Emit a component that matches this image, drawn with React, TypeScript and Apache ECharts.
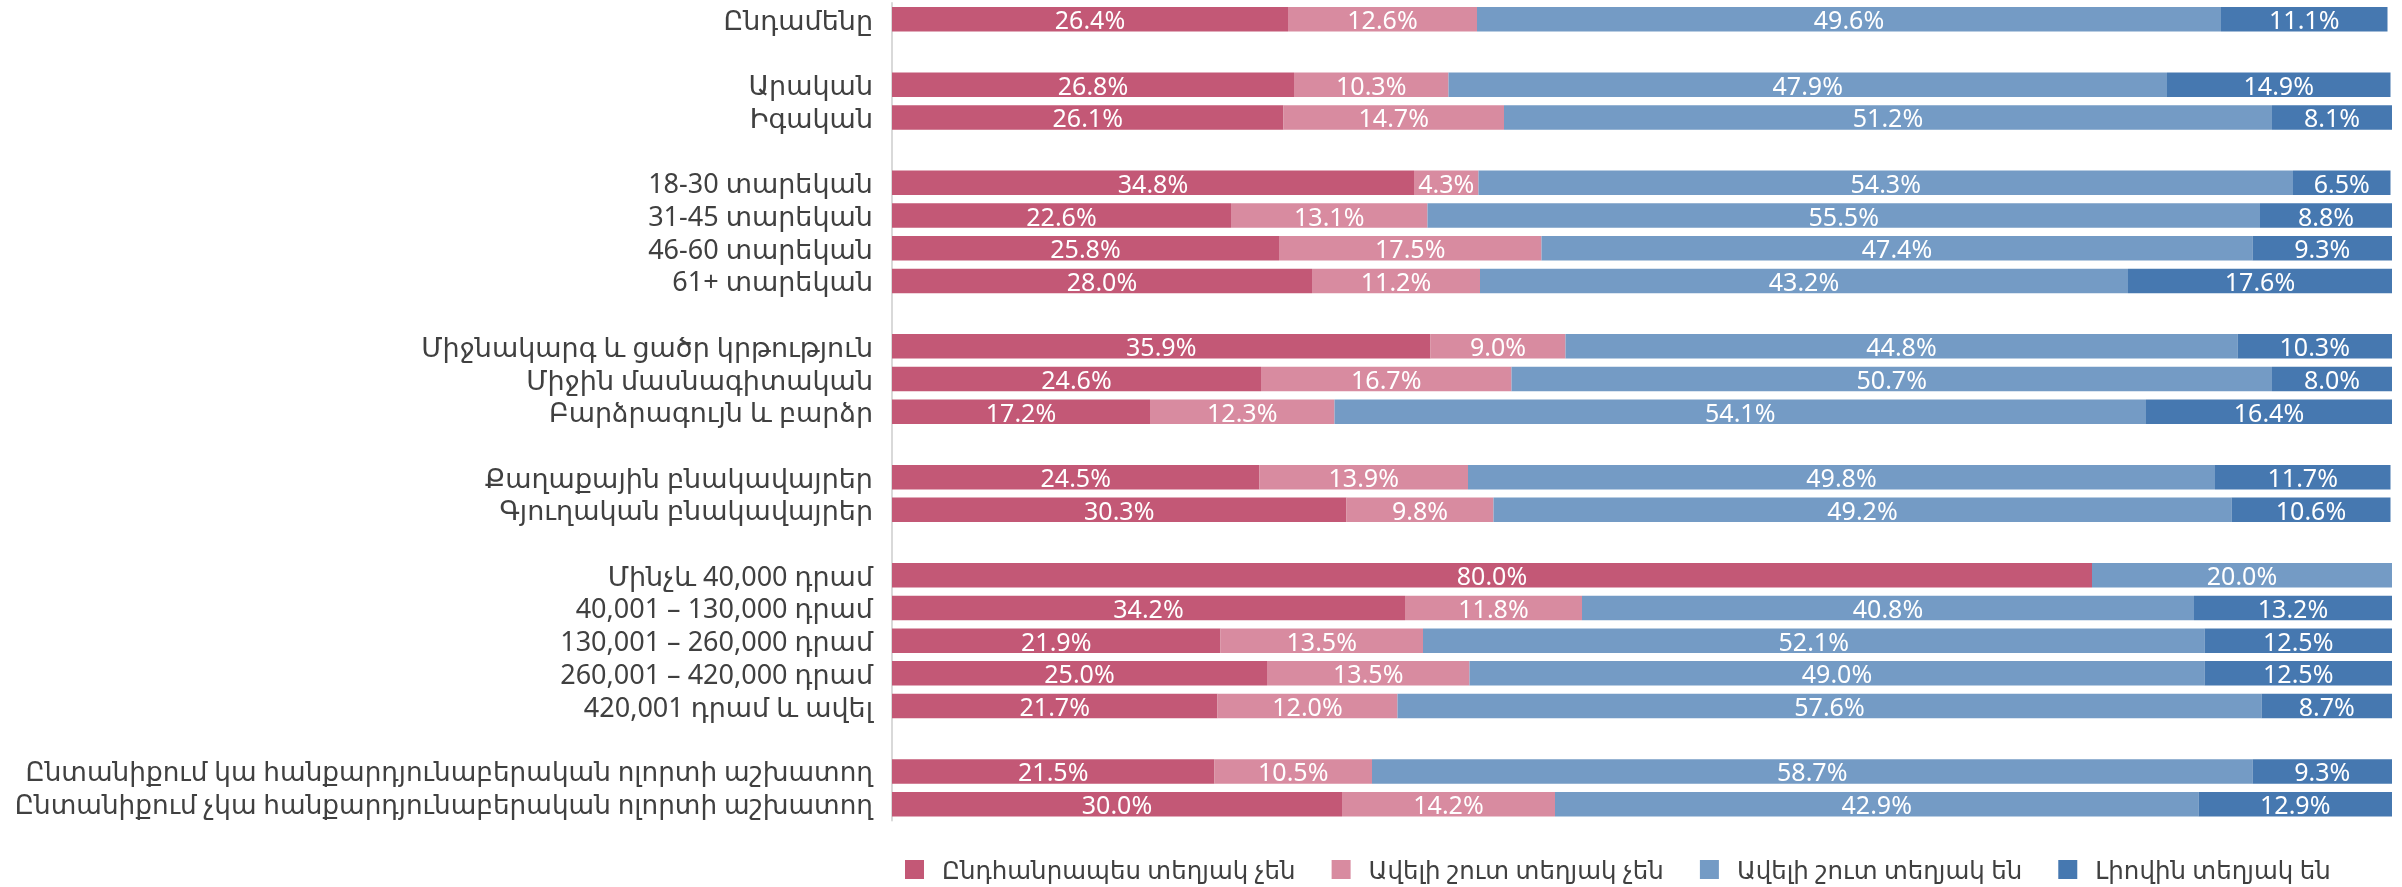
import React, { useEffect, useRef } from "react";
import * as echarts from "echarts";

const categories = [
  "Ընդամենը",
  " ",
  "Արական",
  "Իգական",
  "  ",
  "18-30 տարեկան",
  "31-45 տարեկան",
  "46-60 տարեկան",
  "61+ տարեկան",
  "   ",
  "Միջնակարգ և ցածր կրթություն",
  "Միջին մասնագիտական",
  "Բարձրագույն և բարձր",
  "    ",
  "Քաղաքային բնակավայրեր",
  "Գյուղական բնակավայրեր",
  "     ",
  "Մինչև 40,000 դրամ",
  "40,001 – 130,000 դրամ",
  "130,001 – 260,000 դրամ",
  "260,001 – 420,000 դրամ",
  "420,001 դրամ և ավել",
  "      ",
  "Ընտանիքում կա հանքարդյունաբերական ոլորտի աշխատող",
  "Ընտանիքում չկա հանքարդյունաբերական ոլորտի աշխատող",
];

const seriesNames = [
  "Ընդհանրապես տեղյակ չեն",
  "Ավելի շուտ տեղյակ չեն",
  "Ավելի շուտ տեղյակ են",
  "Լիովին տեղյակ են",
];

const notAware = [26.4, null, 26.8, 26.1, null, 34.8, 22.6, 25.8, 28.0, null, 35.9, 24.6, 17.2, null, 24.5, 30.3, null, 80.0, 34.2, 21.9, 25.0, 21.7, null, 21.5, 30.0];
const ratherNotAware = [12.6, null, 10.3, 14.7, null, 4.3, 13.1, 17.5, 11.2, null, 9.0, 16.7, 12.3, null, 13.9, 9.8, null, null, 11.8, 13.5, 13.5, 12.0, null, 10.5, 14.2];
const ratherAware = [49.6, null, 47.9, 51.2, null, 54.3, 55.5, 47.4, 43.2, null, 44.8, 50.7, 54.1, null, 49.8, 49.2, null, 20.0, 40.8, 52.1, 49.0, 57.6, null, 58.7, 42.9];
const fullyAware = [11.1, null, 14.9, 8.1, null, 6.5, 8.8, 9.3, 17.6, null, 10.3, 8.0, 16.4, null, 11.7, 10.6, null, null, 13.2, 12.5, 12.5, 8.7, null, 9.3, 12.9];

const colors = ["#C35876", "#D88BA0", "#749BC5", "#4678B0"];

const FONT = "'Noto Sans', 'DejaVu Sans', sans-serif";

export default function App() {
  const ref = useRef<HTMLDivElement>(null);
  useEffect(() => {
    if (!ref.current) return;
    const chart = echarts.init(ref.current, undefined, { renderer: "svg" });
    const values = [notAware, ratherNotAware, ratherAware, fullyAware];
    chart.setOption({
      animation: false,
      color: colors,
      grid: {
        left: 892,
        right: 10,
        top: 3,
        bottom: 66.5,
        containLabel: false,
        outerBoundsMode: "none",
      },
      legend: {
        left: 900,
        top: 852,
        itemWidth: 19,
        itemHeight: 19,
        itemGap: 36,
        icon: "rect",
        textStyle: {
          fontSize: 24.5,
          color: "#404040",
          fontFamily: FONT,
          padding: [0, 0, 0, 13],
        },
        data: seriesNames,
      },
      xAxis: {
        type: "value",
        min: 0,
        max: 100,
        show: false,
      },
      yAxis: {
        type: "category",
        inverse: true,
        data: categories,
        axisLine: { show: true, lineStyle: { color: "#D9D9D9", width: 2 } },
        axisTick: { show: false },
        axisLabel: {
          interval: 0,
          fontSize: 27,
          color: "#404040",
          margin: 19,
          fontFamily: FONT,
          formatter: (v: string) => (v.length > 40 ? "{s|" + v + "}" : v),
          rich: {
            s: { fontSize: 26.3, color: "#404040", fontFamily: FONT },
          },
        },
      },
      series: seriesNames.map((name, i) => ({
        name,
        type: "bar",
        stack: "total",
        barCategoryGap: "25%",
        data: values[i],
        label: {
          show: true,
          position: "inside",
          color: "#FFFFFF",
          fontSize: 25,
          fontFamily: "'Noto Sans', sans-serif",
          formatter: (p: any) =>
            p.value == null ? "" : Number(p.value).toFixed(1) + "%",
        },
      })),
    });
    return () => chart.dispose();
  }, []);
  return (
    <div
      ref={ref}
      style={{ position: "fixed", left: 0, top: 0, width: 2402, height: 887 }}
    />
  );
}
